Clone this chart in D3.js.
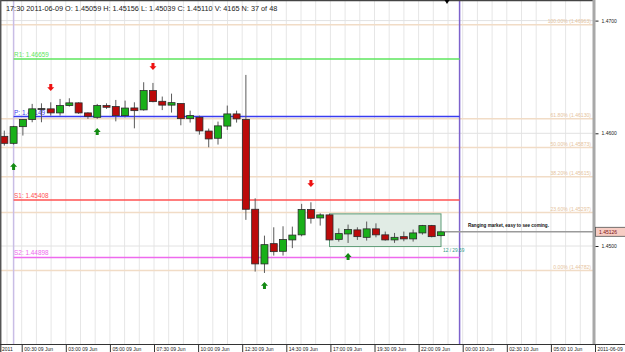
<!DOCTYPE html>
<html>
<head>
<meta charset="utf-8">
<script src="https://cdn.jsdelivr.net/npm/d3@7"></script>
<style>
  body { margin: 0; background: #fff; }
  svg { display: block; font-family: "Liberation Sans", Arial, sans-serif; }
</style>
</head>
<body>
<svg width="625" height="352"></svg>
<script>
// 30 minute EURUSD bars, 23:30 08 Jun .. 23:00 09 Jun
const opens  = [1.45973,1.45911,1.46059,1.46122,1.46219,1.46217,1.46181,1.46246,1.46270,1.46181,1.46142,1.46246,
                1.46237,1.46157,1.46225,1.46208,1.46379,1.46284,1.46250,1.46264,1.46130,1.46142,1.46020,1.45956,
                1.46064,1.46172,1.46122,1.45326,1.44841,1.45021,1.44953,1.45054,1.45099,1.45323,1.45249,1.45276,
                1.45059,1.45107,1.45143,1.45077,1.45152,1.45099,1.45054,1.45083,1.45063,1.45116,1.45181,1.45092];
const highs  = [1.46024,1.46066,1.46125,1.46261,1.46266,1.46275,1.46305,1.46311,1.46275,1.46186,1.46261,1.46266,
                1.46296,1.46290,1.46275,1.46453,1.46447,1.46326,1.46352,1.46266,1.46201,1.46157,1.46042,1.46104,
                1.46246,1.46201,1.46518,1.45423,1.45092,1.45166,1.45175,1.45172,1.45374,1.45388,1.45290,1.45285,
                1.45156,1.45190,1.45166,1.45217,1.45201,1.45128,1.45116,1.45128,1.45146,1.45187,1.45187,1.45128];
const lows   = [1.45891,1.45900,1.45980,1.46098,1.46098,1.46157,1.46157,1.46237,1.46172,1.46128,1.46128,1.46217,
                1.46106,1.46142,1.46044,1.46201,1.46275,1.46206,1.46184,1.46071,1.46095,1.45988,1.45876,1.45900,
                1.46030,1.46095,1.45232,1.44773,1.44761,1.44915,1.44915,1.44981,1.45086,1.45199,1.45181,1.45048,
                1.45039,1.45027,1.45054,1.45048,1.45077,1.45048,1.45028,1.45042,1.45039,1.45101,1.45077,1.45086];
const closes = [1.45911,1.46059,1.46122,1.46217,1.46216,1.46181,1.46246,1.46270,1.46181,1.46151,1.46246,1.46231,
                1.46157,1.46224,1.46201,1.46379,1.46281,1.46250,1.46272,1.46130,1.46157,1.46021,1.45950,1.46066,
                1.46172,1.46128,1.45326,1.44841,1.45012,1.44950,1.45057,1.45097,1.45323,1.45246,1.45276,1.45054,
                1.45110,1.45146,1.45083,1.45152,1.45099,1.45054,1.45077,1.45063,1.45116,1.45181,1.45083,1.45126];

// pivots for the day
const pivotNames  = ["R1", "P", "S1", "S2"];
const pivotValues = [1.46659, 1.46149, 1.45408, 1.44898];
const pivotColors = ["#5ee65e", "#3a3cf0", "#ff5252", "#ee6aee"];

// fibonacci retracement
const fibNames  = ["100.00%", "61.80%", "50.00%", "38.20%", "23.60%", "0.00%"];
const fibValues = [1.46963, 1.46130, 1.45873, 1.45615, 1.45297, 1.44782];

// signal arrows (bar index, price level)
const downArrowBars   = [5, 16, 33];
const downArrowPrices = [1.46406, 1.46592, 1.45554];
const upArrowBars     = [1, 10, 28, 37];
const upArrowPrices   = [1.45705, 1.46015, 1.44649, 1.44906];

// range box
const boxBars   = [35, 47];
const boxPrices = [1.45285, 1.44995];
const boxLabel  = "12 / 29.59";

const priceTicks = [1.45, 1.46, 1.47];
const lastPrice = 1.45126;
const dayStarts = [1, 49];
const timeLabels = ["00:30 09 Jun","03:00 09 Jun","05:00 09 Jun","07:30 09 Jun","10:00 09 Jun","12:30 09 Jun",
                    "14:30 09 Jun","17:00 09 Jun","19:30 09 Jun","22:00 09 Jun","00:00 10 Jun","02:30 10 Jun",
                    "05:00 10 Jun","2011-06-09"];

const svg = d3.select("svg");
const plotRight = 593, plotBottom = 344;

const x = d3.scaleLinear().domain([0, 47]).range([4.3, 441]);
const y = d3.scaleLinear().domain([1.45, 1.47]).range([246, 20.6]);
const xLab = d3.scaleLinear().domain([0, 13]).range([21.7, 595]);

// vertical grid
const gridPos = d3.range(-1, 40).map(k => xLab(k / 3)).filter(v => v > 0 && v < plotRight);
svg.append("g").selectAll("line")
    .data(gridPos)
    .enter().append("line")
    .attr("x1", d => d).attr("x2", d => d)
    .attr("y1", 1).attr("y2", plotBottom)
    .style("stroke", "#e6e6e6");

// horizontal grid
svg.append("g").selectAll("line")
    .data(priceTicks)
    .enter().append("line")
    .attr("x1", 0).attr("x2", plotRight)
    .attr("y1", d => y(d)).attr("y2", d => y(d))
    .style("stroke", "#e2e2e2");

// fib levels
svg.append("g").selectAll("line")
    .data(fibValues)
    .enter().append("line")
    .attr("x1", 0).attr("x2", plotRight)
    .attr("y1", d => y(d)).attr("y2", d => y(d))
    .style("stroke", "#f1dcc6")
    .style("stroke-width", 1.5);

svg.append("g").selectAll("text")
    .data(fibValues)
    .enter().append("text")
    .attr("x", plotRight - 2)
    .attr("y", d => y(d) - 1.5)
    .attr("text-anchor", "end")
    .style("font-size", "5.1px")
    .style("fill", "#e6c49e")
    .text((d, i) => fibNames[i] + " (" + d.toFixed(5) + ")");

// day separators
svg.append("g").selectAll("line")
    .data(dayStarts)
    .enter().append("line")
    .attr("x1", d => x(d)).attr("x2", d => x(d))
    .attr("y1", 0).attr("y2", plotBottom)
    .style("stroke", (d, i) => i === 0 ? "#c9bde6" : "#7d62cc")
    .style("stroke-width", 1.5);

// pivot lines
svg.append("g").selectAll("line")
    .data(pivotValues)
    .enter().append("line")
    .attr("x1", x(dayStarts[0])).attr("x2", x(dayStarts[1]))
    .attr("y1", d => y(d)).attr("y2", d => y(d))
    .style("stroke", (d, i) => pivotColors[i])
    .style("stroke-width", 1.5);

svg.append("g").selectAll("text")
    .data(pivotValues)
    .enter().append("text")
    .attr("x", x(dayStarts[0]) + 0.5)
    .attr("y", d => y(d) - 2)
    .style("font-size", "6.4px")
    .style("fill", (d, i) => pivotColors[i])
    .text((d, i) => pivotNames[i] + ": " + d.toFixed(5));

// range box
svg.append("rect")
    .attr("x", x(boxBars[0]))
    .attr("y", y(boxPrices[0]))
    .attr("width", x(boxBars[1]) - x(boxBars[0]))
    .attr("height", y(boxPrices[1]) - y(boxPrices[0]))
    .style("fill", "#e1ece5")
    .style("stroke", "#5c9c76")
    .style("stroke-width", 1);

svg.append("text")
    .attr("x", x(boxBars[1]) + 2)
    .attr("y", y(boxPrices[1]) + 5.5)
    .style("font-size", "4.8px")
    .style("fill", "#2f9a88")
    .text(boxLabel);

// current price line
svg.append("line")
    .attr("x1", x(47) + 4).attr("x2", plotRight)
    .attr("y1", y(lastPrice)).attr("y2", y(lastPrice))
    .style("stroke", "#9a9a9a")
    .style("stroke-width", 1.5);

// candles
const bars = d3.range(opens.length);
svg.append("g").selectAll("line")
    .data(bars)
    .enter().append("line")
    .attr("x1", i => x(i)).attr("x2", i => x(i))
    .attr("y1", i => y(highs[i])).attr("y2", i => y(lows[i]))
    .style("stroke", "#5a5a5a");

svg.append("g").selectAll("rect")
    .data(bars)
    .enter().append("rect")
    .attr("x", i => x(i) - 3.5)
    .attr("width", 7)
    .attr("y", i => y(Math.max(opens[i], closes[i])))
    .attr("height", i => Math.max(0.8, Math.abs(y(opens[i]) - y(closes[i]))))
    .style("fill", i => Math.abs(opens[i] - closes[i]) < 0.00005 ? "#333"
        : closes[i] > opens[i] ? "#19b019" : "#bb0a0a")
    .style("stroke", "#2a2a2a")
    .style("stroke-width", 0.8);

// arrows
const downPath = "M-1.5,-3.5L1.5,-3.5L1.5,-0.3L3.5,-0.3L0,3.5L-3.5,-0.3L-1.5,-0.3Z";
const upPath = "M-1.5,3.5L1.5,3.5L1.5,0.3L3.5,0.3L0,-3.5L-3.5,0.3L-1.5,0.3Z";
svg.append("g").selectAll("path")
    .data(downArrowBars)
    .enter().append("path")
    .attr("d", downPath)
    .attr("transform", (d, i) => `translate(${x(d)},${y(downArrowPrices[i])})`)
    .style("fill", "#ee1111");
svg.append("g").selectAll("path")
    .data(upArrowBars)
    .enter().append("path")
    .attr("d", upPath)
    .attr("transform", (d, i) => `translate(${x(d)},${y(upArrowPrices[i])})`)
    .style("fill", "#138a13");

// annotation
svg.append("text")
    .attr("x", 468).attr("y", 227)
    .style("font-size", "4.6px")
    .style("font-weight", "bold")
    .style("fill", "#111")
    .text("Ranging market, easy to see coming.");

// frame
svg.append("line").attr("x1", 0).attr("x2", plotRight).attr("y1", 0.5).attr("y2", 0.5)
    .style("stroke", "#444").style("stroke-width", 1.5);
svg.append("line").attr("x1", 0.7).attr("x2", 0.7).attr("y1", 0).attr("y2", 352)
    .style("stroke", "#555").style("stroke-width", 1.5);
svg.append("line").attr("x1", plotRight + 1).attr("x2", plotRight + 1).attr("y1", 0).attr("y2", plotBottom)
    .style("stroke", "#a8a8a8").style("stroke-width", 3);
svg.append("path").attr("d", "M444.5,0L449.5,0L447,4Z").style("fill", "#000");

// header
svg.append("text")
    .attr("x", 6).attr("y", 11)
    .style("font-size", "7.3px")
    .style("fill", "#222")
    .text("17:30 2011-06-09 O: 1.45059 H: 1.45156 L: 1.45039 C: 1.45110 V: 4165 N: 37 of 48");

// price axis
const yAxis = svg.append("g")
    .attr("transform", `translate(${plotRight + 2.5},0)`)
    .call(d3.axisRight(y).tickValues(priceTicks).tickSize(3).tickFormat(d3.format(".4f")));
yAxis.select(".domain").remove();
yAxis.selectAll("line").style("stroke", "#222");
yAxis.selectAll("text").style("font-size", "5px").style("font-family", "Liberation Sans, Arial, sans-serif").style("fill", "#222");

// last price tag
svg.append("rect")
    .attr("x", plotRight + 2.5).attr("y", y(lastPrice) - 4.5)
    .attr("width", 30).attr("height", 9)
    .style("fill", "#f7cdc4").style("stroke", "#555").style("stroke-width", 0.8);
svg.append("text")
    .attr("x", plotRight + 6).attr("y", y(lastPrice) + 1.8)
    .style("font-size", "5px").style("fill", "#7a1010")
    .text(lastPrice.toFixed(5));

// time axis
svg.append("line").attr("x1", 0).attr("x2", 625).attr("y1", plotBottom + 0.5).attr("y2", plotBottom + 0.5)
    .style("stroke", "#333");
svg.append("g").selectAll("line")
    .data(timeLabels)
    .enter().append("line")
    .attr("x1", (d, i) => xLab(i) + 0.5).attr("x2", (d, i) => xLab(i) + 0.5)
    .attr("y1", plotBottom).attr("y2", 352)
    .style("stroke", "#333");
svg.append("g").selectAll("text")
    .data(["2011"].concat(timeLabels))
    .enter().append("text")
    .attr("x", (d, i) => i === 0 ? 2 : xLab(i - 1) + 2.5)
    .attr("y", 350.5)
    .style("font-size", "5px")
    .style("fill", "#222")
    .text(d => d);
</script>
</body>
</html>
